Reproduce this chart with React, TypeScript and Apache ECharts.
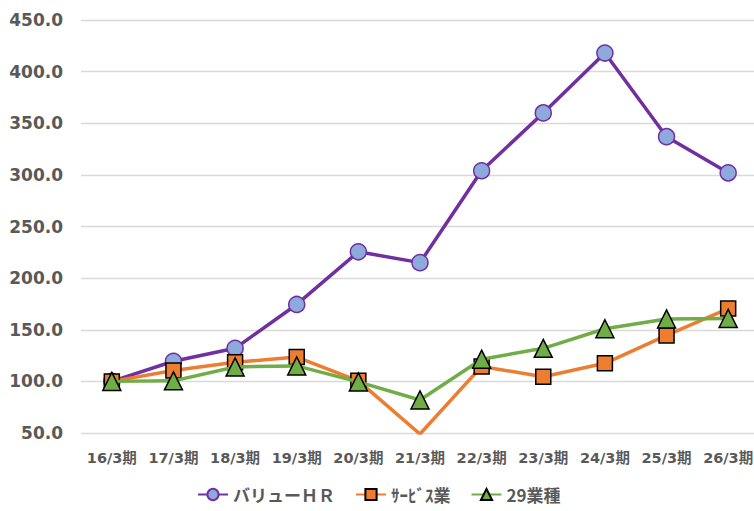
import React, { useEffect, useRef } from "react";
import * as echarts from "echarts";

const categories = ["16/3期", "17/3期", "18/3期", "19/3期", "20/3期", "21/3期", "22/3期", "23/3期", "24/3期", "25/3期", "26/3期"];
const valueHR = [100, 119.5, 132, 174.5, 225.5, 215, 304, 360, 418, 337, 302];
const service = [100, 110.5, 118.5, 123.5, 100.5, 49, 114.5, 104.5, 117.5, 144.5, 170.5];
const industry29 = [100, 100.5, 114, 115, 99.5, 82, 121.5, 132, 151, 160.5, 161];

const FONT = "'DejaVu Sans', 'Noto Sans CJK JP', sans-serif";
const CJK = "'Noto Sans CJK JP', 'Noto Sans', sans-serif";

export default function App() {
  const ref = useRef<HTMLDivElement>(null);
  useEffect(() => {
    if (!ref.current) return;
    const chart = echarts.init(ref.current, undefined, { renderer: "svg" });
    chart.setOption({
      animation: false,
      grid: { left: 81, width: 678, top: 20, bottom: 78, containLabel: false },
      legend: {
        bottom: 3,
        left: 192,
        itemWidth: 30,
        itemHeight: 14,
        itemGap: 20,
        textStyle: { fontFamily: CJK, fontWeight: "bold", fontSize: 17, color: "#595959" },
        data: ["バリューＨＲ", "ｻｰﾋﾞｽ業", "29業種"],
      },
      xAxis: {
        type: "category",
        data: categories,
        boundaryGap: true,
        axisLine: { show: false },
        axisTick: { show: false },
        axisLabel: { fontFamily: FONT, fontWeight: "bold", fontSize: 14.5, color: "#595959", margin: 18, interval: 0 },
      },
      yAxis: {
        type: "value",
        min: 50,
        max: 450,
        interval: 50,
        axisLine: { show: false },
        axisTick: { show: false },
        axisLabel: { fontFamily: FONT, fontWeight: "bold", fontSize: 17, color: "#595959", margin: 18, formatter: (v: number) => v.toFixed(1) },
        splitLine: { lineStyle: { color: "#d9d9d9", width: 1.3 } },
      },
      series: [
        {
          name: "バリューＨＲ",
          type: "line",
          data: valueHR,
          symbol: "circle",
          symbolSize: 16,
          lineStyle: { color: "#7030A0", width: 3.5 },
          itemStyle: { color: "#8EA9DB", borderColor: "#7030A0", borderWidth: 1.5 },
          z: 2,
        },
        {
          name: "ｻｰﾋﾞｽ業",
          type: "line",
          data: service,
          symbol: "rect",
          symbolSize: 15,
          lineStyle: { color: "#ED7D31", width: 3.5 },
          itemStyle: { color: "#ED7D31", borderColor: "#000", borderWidth: 1.5 },
          z: 3,
        },
        {
          name: "29業種",
          type: "line",
          data: industry29,
          symbol: "triangle",
          symbolSize: 18,
          lineStyle: { color: "#70AD47", width: 3.5 },
          itemStyle: { color: "#70AD47", borderColor: "#000", borderWidth: 1.5 },
          z: 4,
        },
      ],
    });
    return () => chart.dispose();
  }, []);
  return (
    <div style={{ width: 754, height: 511, position: "absolute", left: 0, top: 0, overflow: "hidden" }}>
      <div ref={ref} style={{ width: 770, height: 511 }} />
    </div>
  );
}
